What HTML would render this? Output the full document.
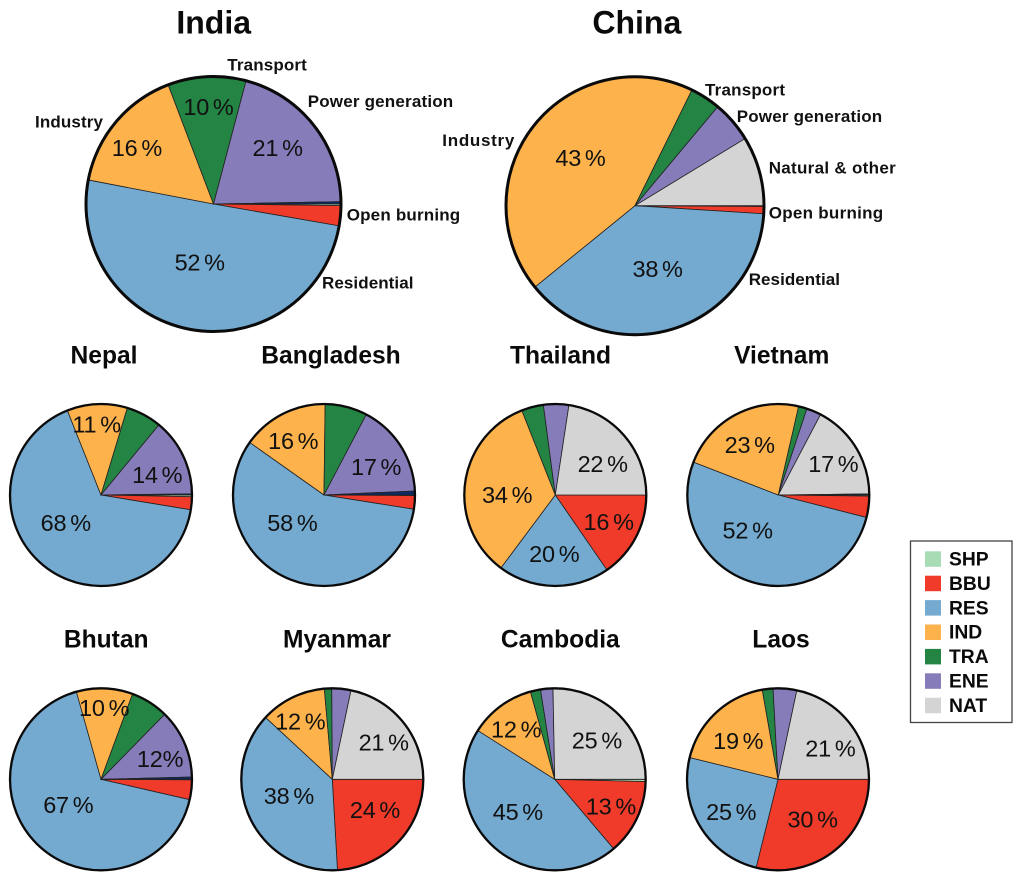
<!DOCTYPE html>
<html lang="en">
<head>
<meta charset="utf-8">
<title>Emission source shares by country</title>
<style>
html,body{margin:0;padding:0;background:#fff;}
svg{display:block;font-family:"Liberation Sans",Arial,sans-serif;}
.big{font-size:32px;font-weight:bold;text-anchor:middle;fill:#0a0a0a;}
.title{font-size:24.6px;font-weight:bold;text-anchor:middle;fill:#0a0a0a;}
.call{font-size:17px;font-weight:bold;fill:#111;}
.leg{font-size:19.3px;font-weight:bold;fill:#0a0a0a;}
.val{font-size:23.5px;text-anchor:middle;fill:#111;word-spacing:-2.5px;letter-spacing:-0.2px;}
</style>
</head>
<body>
<svg id="chart" width="1022" height="881" viewBox="0 0 1022 881" xmlns="http://www.w3.org/2000/svg">
  <rect width="1022" height="881" fill="#fff"/>
  <g id="pies"></g>

  <text class="big" x="213.7" y="33.5">India</text>
  <text class="big" x="636.8" y="33.5">China</text>
  <text class="title" x="104" y="363.5">Nepal</text>
  <text class="title" x="331" y="363.5">Bangladesh</text>
  <text class="title" x="560.5" y="363.5">Thailand</text>
  <text class="title" x="781.7" y="363.5">Vietnam</text>
  <text class="title" x="106.2" y="647.7">Bhutan</text>
  <text class="title" x="337" y="647.7">Myanmar</text>
  <text class="title" x="560.3" y="647.7">Cambodia</text>
  <text class="title" x="781" y="647.7">Laos</text>

  <g>
    <text class="call" x="227.3" y="70.5" textLength="79.5" lengthAdjust="spacing">Transport</text>
    <text class="call" x="307.7" y="107" textLength="145.5" lengthAdjust="spacing">Power generation</text>
    <text class="call" x="35" y="127.3" textLength="68" lengthAdjust="spacing">Industry</text>
    <text class="call" x="346.7" y="220.5" textLength="113.5" lengthAdjust="spacing">Open burning</text>
    <text class="call" x="322" y="288.3" textLength="91.5" lengthAdjust="spacing">Residential</text>
  </g>
  <g>
    <text class="call" x="705" y="95.5" textLength="80" lengthAdjust="spacing">Transport</text>
    <text class="call" x="736.7" y="122" textLength="145.5" lengthAdjust="spacing">Power generation</text>
    <text class="call" x="768.7" y="173.3" textLength="127" lengthAdjust="spacing">Natural &amp; other</text>
    <text class="call" x="768.7" y="218.3" textLength="114.5" lengthAdjust="spacing">Open burning</text>
    <text class="call" x="748.7" y="285" textLength="91.3" lengthAdjust="spacing">Residential</text>
    <text class="call" x="442.3" y="146" textLength="72" lengthAdjust="spacing">Industry</text>
  </g>

  <g>
    <rect x="910.5" y="541" width="101.5" height="181.5" fill="#fff" stroke="#444" stroke-width="1.3"/>
    <g><rect x="925" y="551.3" width="16" height="15.5" fill="#a8dcb5"/><text class="leg" x="949" y="565.5">SHP</text></g>
    <g><rect x="925" y="575.7" width="16" height="15.5" fill="#f03b2b"/><text class="leg" x="949" y="589.9">BBU</text></g>
    <g><rect x="925" y="600.1" width="16" height="15.5" fill="#74aad0"/><text class="leg" x="949" y="614.3">RES</text></g>
    <g><rect x="925" y="624.5" width="16" height="15.5" fill="#feb24c"/><text class="leg" x="949" y="638.7">IND</text></g>
    <g><rect x="925" y="648.9" width="16" height="15.5" fill="#238443"/><text class="leg" x="949" y="663.1">TRA</text></g>
    <g><rect x="925" y="673.3" width="16" height="15.5" fill="#857cb9"/><text class="leg" x="949" y="687.5">ENE</text></g>
    <g><rect x="925" y="697.7" width="16" height="15.5" fill="#d4d4d4"/><text class="leg" x="949" y="711.9">NAT</text></g>
  </g>
</svg>

<script>
// ---- data (percent share of each source, clockwise from 3 o'clock) ----
const countries = ["India","China","Nepal","Bangladesh","Thailand","Vietnam","Bhutan","Myanmar","Cambodia","Laos"];
const shpValues = [0.2,0.1,0.3,0.1,0,0.2,0.1,0,0.4,0];
const bbuValues = [2.55,0.9,2.3,2.4,15.4,3.77,3.5,24.1,13.4,28.9];
const resValues = [50.3,38.1,66.3,57.3,19.8,51.9,67,37.8,45.2,25];
const indValues = [16.2,43.1,10.7,15.4,33.8,22.7,10,11.7,11.7,18.4];
const traValues = [9.9,3.8,6.3,7.5,3.9,1.5,6.7,1.3,1.8,1.9];
const eneValues = [20.6,5.2,13.8,16.6,4.5,2.6,12.25,3.4,2.2,4.2];
const natValues = [0,8.7,0,0,22.6,17.1,0,21.7,25.3,21.7];
const othValues = [0.3,0,0.2,0.7,0,0.2,0.4,0,0,0];

// ---- printed percentage labels ----
const bbuPrinted = [null,null,null,null,"16 %",null,null,"24 %","13 %","30 %"];
const resPrinted = ["52 %","38 %","68 %","58 %","20 %","52 %","67 %","38 %","45 %","25 %"];
const indPrinted = ["16 %","43 %","11 %","16 %","34 %","23 %","10 %","12 %","12 %","19 %"];
const traPrinted = ["10 %",null,null,null,null,null,null,null,null,null];
const enePrinted = ["21 %",null,"14 %","17 %",null,null,"12%",null,null,null];
const natPrinted = [null,null,null,null,"22 %","17 %",null,"21 %","25 %","21 %"];

// ---- layout (not data) ----
const pieCentres = [[213.5,204,127.5,3],[635,205.7,129,3],[101,495,91,2.3],[324,495,91,2.3],[555.3,495,91,2.3],[778.3,495,91,2.3],[101,779.3,91,2.3],[332.3,779.3,91,2.3],[554.7,779.3,91,2.3],[778,779.3,91,2.3]];
const seriesStyle = [
  {key:"shp",fill:"#a8dcb5"},
  {key:"bbu",fill:"#f03b2b"},
  {key:"res",fill:"#74aad0"},
  {key:"ind",fill:"#feb24c"},
  {key:"tra",fill:"#238443"},
  {key:"ene",fill:"#857cb9"},
  {key:"nat",fill:"#d4d4d4"},
  {key:"oth",fill:"#0b2a66"}
];
const labelNudges = [
  {res:[0,-17],ind:[-18,-7],tra:[-1,-21],ene:[4,-9]},
  {ind:[6,0],res:[-1,-11]},
  {res:[-1,-15],ind:[-2,-16.5],ene:[7,3]},
  {res:[-11,-23],ind:[-6,-6],ene:[6,1]},
  {nat:[6,4],ind:[6,7],bbu:[5,1],res:[0,4]},
  {res:[-14,-17],ind:[-3,-2],nat:[8.5,-3]},
  {res:[5,-14],ind:[1,-17],ene:[9,1]},
  {nat:[9,-3],ind:[-8,-9],res:[6,-7],bbu:[3,-7]},
  {nat:[4,0],ind:[-6,-6.5],bbu:[7,3],res:[-1,-9]},
  {nat:[10,3],ind:[-2.5,1],res:[0,4],bbu:[1,-3]}
];

const seriesValues = {shp:shpValues,bbu:bbuValues,res:resValues,ind:indValues,tra:traValues,ene:eneValues,nat:natValues,oth:othValues};
const seriesPrinted = {bbu:bbuPrinted,res:resPrinted,ind:indPrinted,tra:traPrinted,ene:enePrinted,nat:natPrinted};

const NS = "http://www.w3.org/2000/svg";
const root = document.getElementById("pies");

function angleOf(cumulative, total){ return cumulative / total * 2 * Math.PI; }
function pointAt(cx, cy, r, a){ return [cx + r * Math.cos(a), cy + r * Math.sin(a)]; }
function slicePath(cx, cy, r, a0, a1){
  const p0 = pointAt(cx, cy, r, a0);
  const p1 = pointAt(cx, cy, r, a1);
  const large = (a1 - a0) > Math.PI ? 1 : 0;
  return "M" + cx + " " + cy + "L" + p0[0] + " " + p0[1] + "A" + r + " " + r + " 0 " + large + " 1 " + p1[0] + " " + p1[1] + "Z";
}

countries.forEach(function(country, i){
  const slug = country.toLowerCase();
  const c = pieCentres[i];
  const cx = c[0], cy = c[1], r = c[2], ring = c[3];
  const total = seriesStyle.reduce(function(sum, s){ return sum + seriesValues[s.key][i]; }, 0);

  const pie = document.createElementNS(NS, "g");
  
  
  root.appendChild(pie);

  let cum = 0;
  const mids = {};
  seriesStyle.forEach(function(s){
    const v = seriesValues[s.key][i];
    const a0 = angleOf(cum, total);
    cum += v;
    const a1 = angleOf(cum, total);
    mids[s.key] = (a0 + a1) / 2;
    if (v <= 0) return;
    const path = document.createElementNS(NS, "path");
    path.setAttribute("d", slicePath(cx, cy, r, a0, a1));
    path.setAttribute("fill", s.fill);
    path.setAttribute("stroke", "#222");
    path.setAttribute("stroke-width", "0.8");
    
    
    pie.appendChild(path);
  });

  const circle = document.createElementNS(NS, "circle");
  circle.setAttribute("cx", cx);
  circle.setAttribute("cy", cy);
  circle.setAttribute("r", r);
  circle.setAttribute("fill", "none");
  circle.setAttribute("stroke", "#0a0a0a");
  circle.setAttribute("stroke-width", ring);
  
  
  pie.appendChild(circle);

  Object.keys(seriesPrinted).forEach(function(key){
    const txt = seriesPrinted[key][i];
    if (!txt) return;
    const nudge = labelNudges[i][key] || [0, 0];
    const p = pointAt(cx, cy, r * 0.6, mids[key]);
    const label = document.createElementNS(NS, "text");
    label.setAttribute("class", "val");
    label.setAttribute("x", p[0] + nudge[0]);
    label.setAttribute("y", p[1] + nudge[1] + 8.4);
    label.textContent = txt;
    
    
    pie.appendChild(label);
  });
});
</script>
</body>
</html>
